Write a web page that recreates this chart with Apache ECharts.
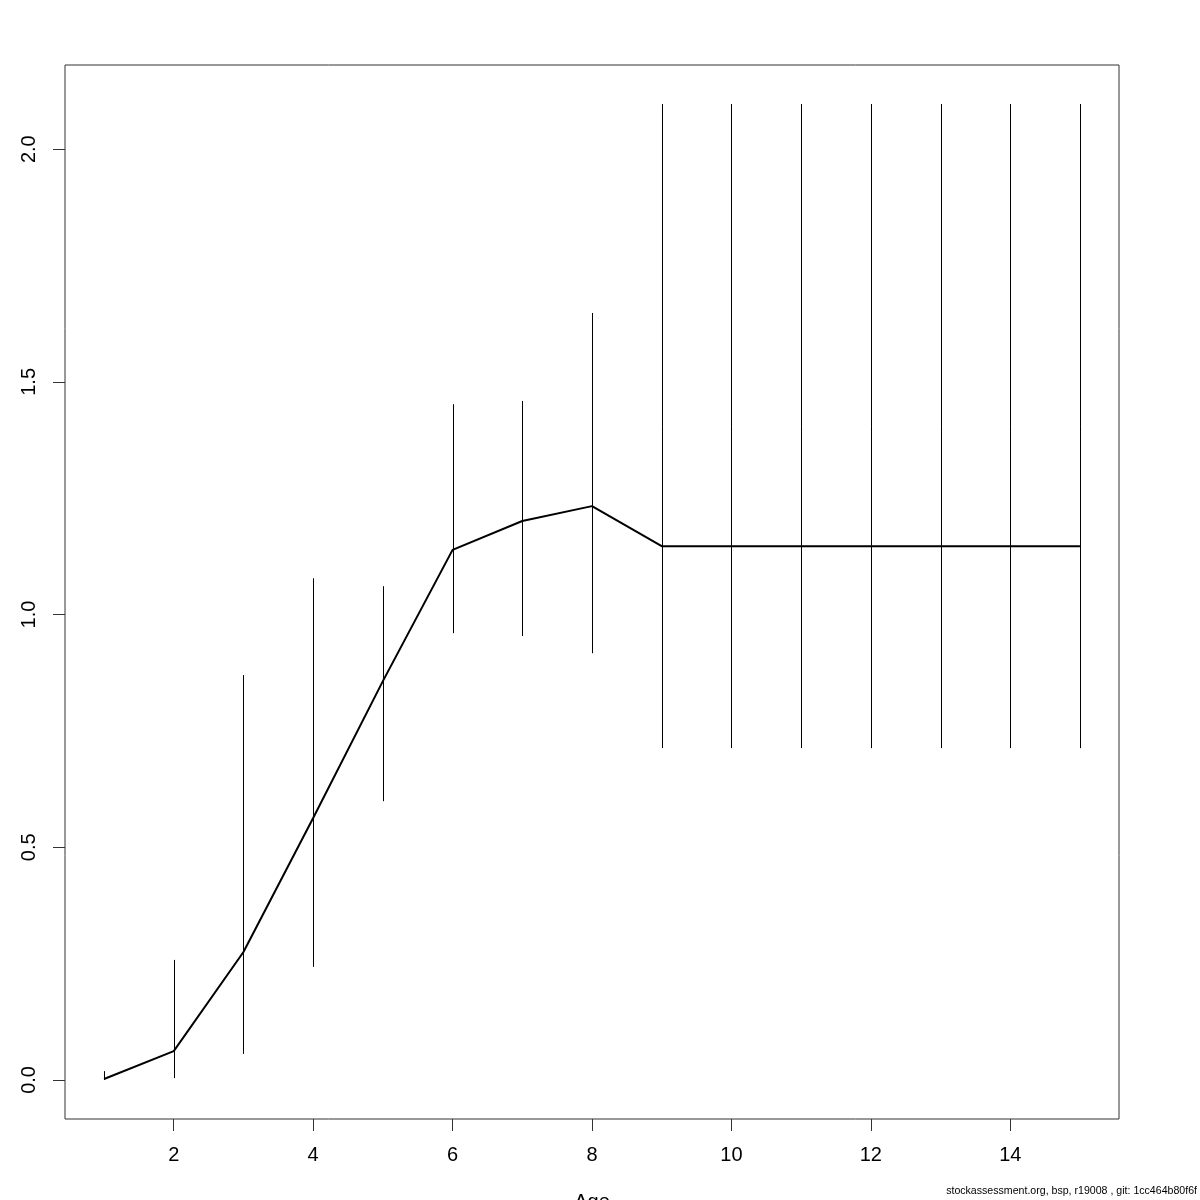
<!DOCTYPE html>
<html>
<head>
<meta charset="utf-8">
<script src="https://cdn.jsdelivr.net/npm/echarts@6/dist/echarts.min.js"></script>
<style>html,body{margin:0;padding:0;background:#fff}#c{width:1200px;height:1200px}</style>
</head>
<body>
<div id="c"></div>
<script>
const ages = [1,2,3,4,5,6,7,8,9,10,11,12,13,14,15];
const estimate = [0.002,0.062,0.275,0.563,0.857,1.139,1.201,1.233,1.147,1.147,1.147,1.147,1.147,1.147,1.147];
const lower = [0.000,0.004,0.056,0.243,0.599,0.960,0.954,0.917,0.713,0.713,0.713,0.713,0.713,0.713,0.713];
const upper = [0.019,0.258,0.870,1.078,1.061,1.452,1.459,1.648,2.097,2.097,2.097,2.097,2.097,2.097,2.097];
const xTicks = [2,4,6,8,10,12,14];
const yTicks = [0,0.5,1,1.5,2];
const xTitle = 'Age';
const footer = 'stockassessment.org, bsp, r19008 , git: 1cc464b80f6f';

const xMin = 1 - 0.04*14, xMax = 15 + 0.04*14;
const yR = 2.097 - 0;
const yMin = 0 - 0.04*yR, yMax = 2.097 + 0.04*yR;

const chart = echarts.init(document.getElementById('c'), null, {renderer:'canvas'});
const font = 'Liberation Sans, Arial, sans-serif';
chart.setOption({
  animation:false,
  backgroundColor:'#fff',
  grid:{left:65,right:81,top:65,bottom:81,containLabel:false,outerBoundsMode:'none',show:true,borderColor:'#333',borderWidth:1,backgroundColor:'transparent'},
  xAxis:{type:'value',min:xMin,max:xMax,
    axisLine:{show:false,onZero:false},splitLine:{show:false},
    axisTick:{show:true,length:12,customValues:xTicks,lineStyle:{color:'#333',width:1}},
    axisLabel:{customValues:xTicks,fontSize:20,fontFamily:font,color:'#000',margin:26},
    name:xTitle,nameLocation:'middle',nameGap:73,nameTextStyle:{fontSize:20,fontFamily:font,color:'#000'}
  },
  yAxis:{type:'value',min:yMin,max:yMax,
    axisLine:{show:false,onZero:false},splitLine:{show:false},
    axisTick:{show:true,length:12,customValues:yTicks,lineStyle:{color:'#333',width:1}},
    axisLabel:{customValues:yTicks,fontSize:20,fontFamily:font,color:'#000',rotate:90,margin:26,
      formatter:v=>v.toFixed(1)}
  },
  graphic:[{type:'text',right:3,bottom:3,style:{text:footer,fontSize:10.6,fontFamily:font,fill:'#000'}}],
  series:[
    {type:'custom',data:ages.map((a,i)=>[a,lower[i],upper[i]]),
     renderItem:(params,api)=>{
       const p1=api.coord([api.value(0),api.value(1)]);
       const p2=api.coord([api.value(0),api.value(2)]);
       return {type:'line',shape:{x1:Math.round(p1[0])+0.5,y1:p1[1],x2:Math.round(p2[0])+0.5,y2:p2[1]},style:{stroke:'#000',lineWidth:1}};
     }, z:2},
    {type:'line',data:ages.map((a,i)=>[a,estimate[i]]),showSymbol:false,symbol:'none',
     lineStyle:{color:'#000',width:2},z:3}
  ]
});
</script>
</body>
</html>
